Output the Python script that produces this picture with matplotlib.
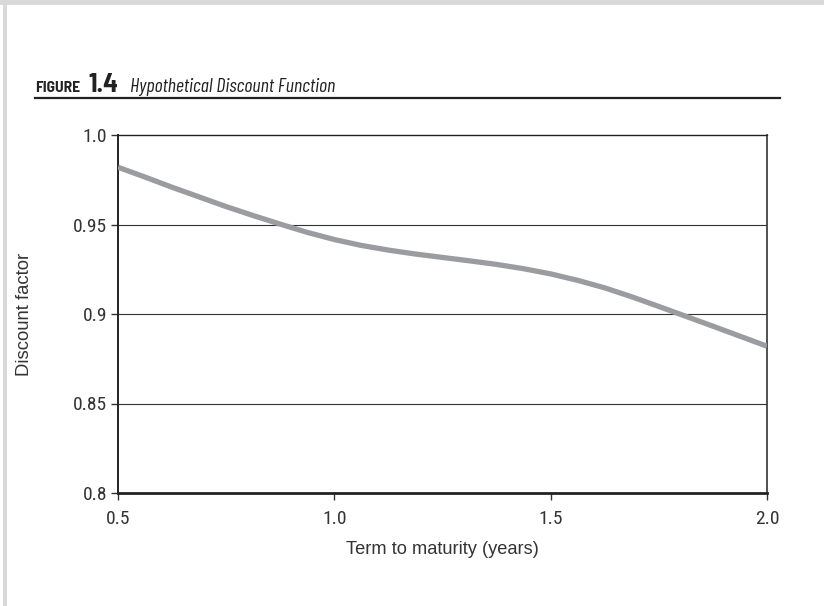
import matplotlib
matplotlib.use("Agg")
import matplotlib.pyplot as plt
from matplotlib.patches import Rectangle
from matplotlib.lines import Line2D
from matplotlib import font_manager as fm

# data
term = [0.5, 0.5625, 0.625, 0.6875, 0.75, 0.8125, 0.875, 0.9375, 1.0, 1.0625, 1.125, 1.1875,
        1.25, 1.3125, 1.375, 1.4375, 1.5, 1.5625, 1.625, 1.6875, 1.75, 1.8125, 1.875, 1.9375, 2.0]
discount = [0.982, 0.9765, 0.9708, 0.9654, 0.9600, 0.9550, 0.9502, 0.9456, 0.9416, 0.9383,
            0.9357, 0.9335, 0.9316, 0.9297, 0.9277, 0.9253, 0.9224, 0.9188, 0.9146, 0.9096,
            0.9042, 0.8987, 0.8932, 0.8876, 0.882]
xticks = [0.5, 1.0, 1.5, 2.0]
xticklabels = ["0.5", "1.0", "1.5", "2.0"]
yticks = [0.8, 0.85, 0.9, 0.95, 1.0]
yticklabels = ["0.8", "0.85", "0.9", "0.95", "1.0"]


def pick(cands, **kw):
    for fam in cands:
        try:
            fm.findfont(fm.FontProperties(family=fam, **kw), fallback_to_default=False)
            return [fam, "DejaVu Sans"]
        except Exception:
            continue
    return ["Liberation Sans", "DejaVu Sans"]


cond_it = pick(["Barlow Condensed", "Roboto Condensed", "Archivo Narrow", "Asap Condensed"], style="italic")
cond = pick(["Roboto Condensed", "Barlow Semi Condensed", "Archivo Narrow", "Asap Condensed"])
semi_b = pick(["Barlow Semi Condensed", "Roboto Condensed", "Asap Condensed"], weight="bold")
sans = ["Liberation Sans", "DejaVu Sans"]

W, H = 824, 606
fig = plt.figure(figsize=(W / 100, H / 100), dpi=100)
fig.patch.set_facecolor("white")

# light gray frame (top and left)
fig.patches.append(Rectangle((0, 1 - 5 / H), 1, 5 / H, transform=fig.transFigure,
                             facecolor="#d9d9d9", edgecolor="none"))
fig.patches.append(Rectangle((3 / W, 0), 3.5 / W, 1, transform=fig.transFigure,
                             facecolor="#d9d9d9", edgecolor="none"))

tick_kw = dict(fontfamily=cond, fontsize=14, color="#333333")

ax = fig.add_axes([118 / W, 113 / H, 649 / W, 358 / H])
ax.plot(term, discount, color="#9b9ca0", lw=3.8, solid_capstyle="butt", zorder=3)
ax.set_xlim(0.5, 2.0)
ax.set_ylim(0.8, 1.0)
ax.set_xticks(xticks)
ax.set_xticklabels(xticklabels, **tick_kw)
ax.set_yticks(yticks)
ax.set_yticklabels(yticklabels, **tick_kw)
for yv in yticks[1:-1]:
    ax.axhline(yv, color="#333333", lw=0.8, zorder=1)
ax.tick_params(axis="both", direction="out", length=5, width=1, color="#333333")
ax.tick_params(axis="x", pad=7)
ax.tick_params(axis="y", pad=3)
ax.spines["top"].set_linewidth(1.0)
ax.spines["top"].set_color("#222222")
ax.spines["right"].set_linewidth(1.2)
ax.spines["right"].set_color("#333333")
ax.spines["left"].set_linewidth(1.4)
ax.spines["left"].set_color("#222222")
ax.spines["bottom"].set_linewidth(2.0)
ax.spines["bottom"].set_color("#222222")
ax.set_xlabel("Term to maturity (years)", fontfamily=sans, fontsize=12, color="#333333",
              va="center")
ax.set_ylabel("Discount factor", fontfamily=sans, fontsize=12, color="#333333", va="center")
ax.xaxis.set_label_coords(0.5, (493 - 549) / 358)
ax.yaxis.set_label_coords((25 - 118) / 649, 0.5)

fig.canvas.draw()
r = fig.canvas.get_renderer()


def fit_width(t, target, vertical=False):
    bb = t.get_window_extent(r)
    size = bb.height if vertical else bb.width
    t.set_fontsize(t.get_fontsize() * target / size)


fit_width(ax.xaxis.label, 194)
fit_width(ax.yaxis.label, 124, vertical=True)

# title parts
y_base = 1 - 92 / H
t1 = fig.text(35 / W, y_base, "FIGURE", fontfamily=semi_b, fontweight="bold", fontsize=10,
              color="#222222", va="baseline")
fit_width(t1, 45)
bb = t1.get_window_extent(r)
t2 = fig.text((bb.x1 + 8) / W, y_base, "1.4", fontfamily=semi_b, fontweight="bold", fontsize=18,
              color="#222222", va="baseline")
fit_width(t2, 30)
bb2 = t2.get_window_extent(r)
t3 = fig.text((bb2.x1 + 12) / W, y_base, "Hypothetical Discount Function",
              fontfamily=cond_it, fontstyle="italic", fontsize=15, color="#222222", va="baseline")
fit_width(t3, 206)
fig.add_artist(Line2D([35 / W, 780 / W], [1 - 97.5 / H, 1 - 97.5 / H], transform=fig.transFigure,
                      color="#222222", lw=1.6))

fig.savefig("out.png", dpi=100)
